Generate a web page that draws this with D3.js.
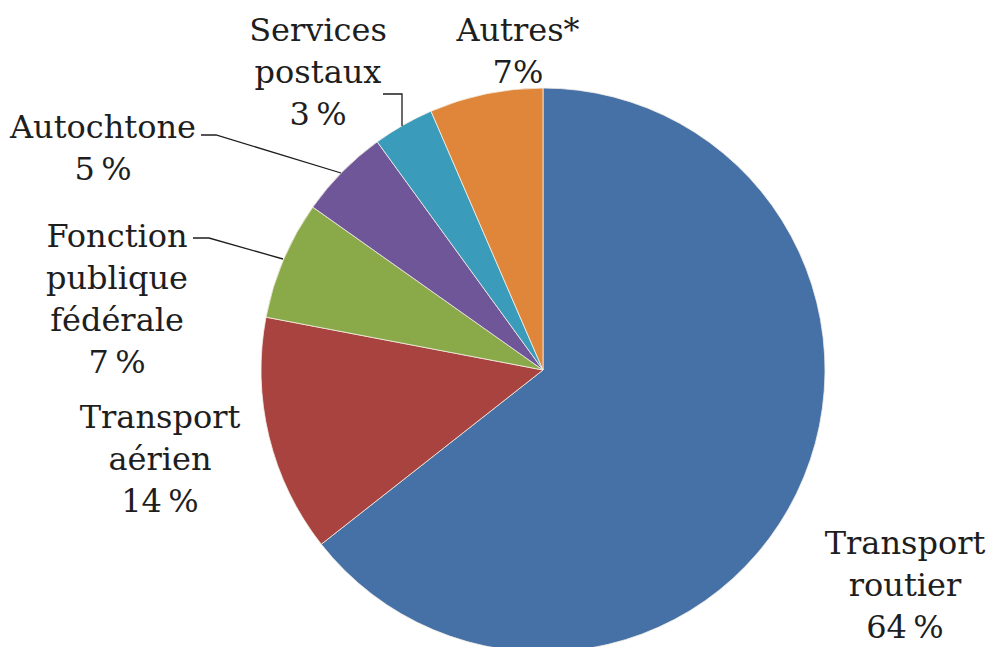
<!DOCTYPE html>
<html>
<head>
<meta charset="utf-8">
<script src="https://cdn.jsdelivr.net/npm/d3@7/dist/d3.min.js"></script>
<style>
  html, body { margin: 0; padding: 0; background: #ffffff; }
  svg { display: block; }
  text { font-family: "DejaVu Serif", serif; fill: #1e1e1e; }
</style>
</head>
<body>
<svg id="chart" width="990" height="647"></svg>
<script>
// ---- data ----
const categories = ["Transport routier", "Transport aérien", "Fonction publique fédérale", "Autochtone", "Services postaux", "Autres*"];
const shares = [64.4, 13.6, 6.8, 5.2, 3.5, 6.5];
const labelLines = [
  ["Transport", "routier", "64\u202F%"],
  ["Transport", "aérien", "14\u202F%"],
  ["Fonction", "publique", "fédérale", "7\u202F%"],
  ["Autochtone", "5\u202F%"],
  ["Services", "postaux", "3\u202F%"],
  ["Autres*", "7%"]
];
const colors = ["#4671a6", "#a9433f", "#8aa948", "#6f5699", "#3b9bba", "#e0863b"];

// ---- layout ----
const cx = 543, cy = 370, R = 282;
const svg = d3.select("#chart");

const data = categories.map((c, i) => ({ name: c, value: shares[i], color: colors[i], lines: labelLines[i] }));

const pie = d3.pie().sort(null).value(d => d.value).startAngle(0).endAngle(2 * Math.PI);
const arc = d3.arc().innerRadius(0).outerRadius(R);
const arcs = pie(data);

const g = svg.append("g").attr("transform", `translate(${cx},${cy})`);
g.selectAll("path.slice")
  .data(arcs)
  .enter().append("path")
  .attr("class", "slice")
  .attr("d", arc)
  .attr("fill", d => d.data.color)
  .attr("stroke", "#f4efe6")
  .attr("stroke-width", 0.8)
  .attr("stroke-linejoin", "round");

// ---- labels ----
const lineH = 42;
const labelPos = [
  { x: 905, y: 554 },  // Transport routier (first baseline)
  { x: 160, y: 428 },  // Transport aérien
  { x: 117, y: 247 },  // Fonction publique
  { x: 103, y: 138 },  // Autochtone
  { x: 318, y: 41 },   // Services postaux
  { x: 518, y: 41 }    // Autres*
];
const fs = 32;
const labels = svg.append("g");
data.forEach((d, i) => {
  const t = labels.append("text")
    .attr("text-anchor", "middle")
    .attr("font-size", fs);
  d.lines.forEach((ln, j) => {
    t.append("tspan")
      .attr("x", labelPos[i].x)
      .attr("y", labelPos[i].y + j * lineH)
      .text(ln);
  });
});

// ---- leader lines ----
const leaders = [
  [[201, 135], [216, 135], [341, 173]],   // Autochtone
  [[193, 238], [209, 238], [283, 259]],   // Fonction publique
  [[383, 94], [402, 94], [402, 126]]      // Services postaux
];
const line = d3.line();
svg.append("g").selectAll("path")
  .data(leaders)
  .enter().append("path")
  .attr("d", line)
  .attr("fill", "none")
  .attr("stroke", "#1e1e1e")
  .attr("stroke-width", 1.3);
</script>
</body>
</html>
